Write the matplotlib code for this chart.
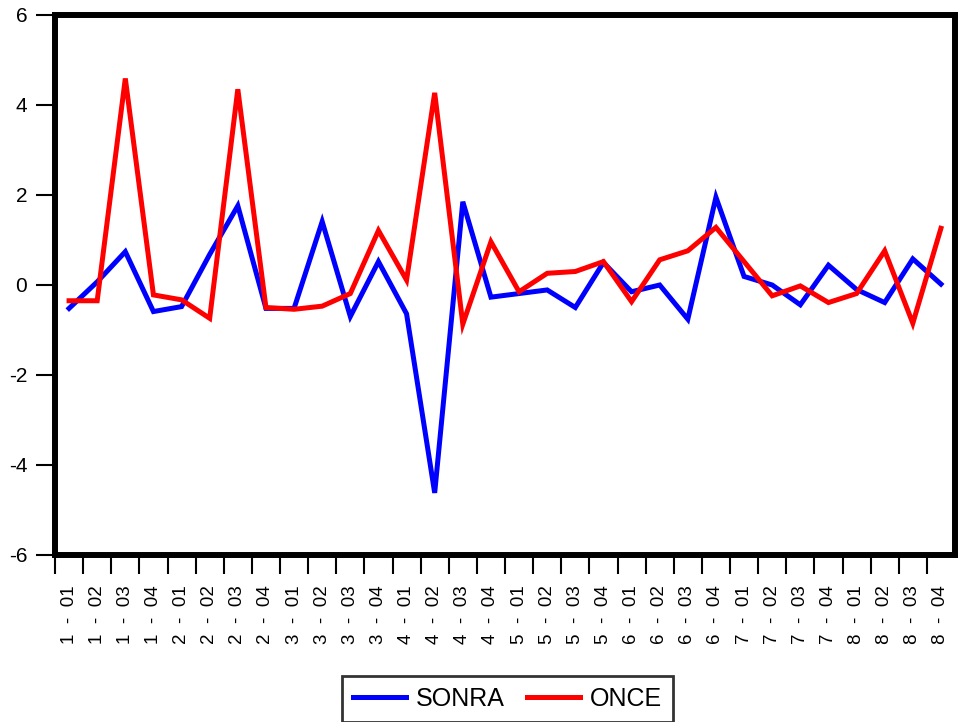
import numpy as np
import matplotlib.pyplot as plt
from matplotlib.ticker import FixedLocator

plt.rcParams['font.family'] = ['Liberation Sans', 'DejaVu Sans']

# quarter labels: year index - quarter
years = [1, 2, 3, 4, 5, 6, 7, 8]
quarters = ["01", "02", "03", "04"]
labels = [f"{y}  -  {q}" for y in years for q in quarters]

sonra = [-0.52, 0.07, 0.74, -0.59, -0.48, 0.68, 1.76, -0.52,
         -0.52, 1.41, -0.70, 0.52, -0.64, -4.62, 1.85, -0.27,
         -0.19, -0.11, -0.50, 0.50, -0.15, 0.00, -0.76, 1.95,
         0.19, 0.00, -0.44, 0.44, -0.10, -0.39, 0.58, 0.02]
once = [-0.35, -0.35, 4.59, -0.22, -0.33, -0.74, 4.35, -0.50,
        -0.54, -0.47, -0.19, 1.21, 0.11, 4.27, -0.87, 0.96,
        -0.15, 0.26, 0.30, 0.52, -0.37, 0.56, 0.76, 1.28,
        0.52, -0.24, -0.02, -0.39, -0.19, 0.76, -0.85, 1.26]

x = np.arange(len(labels))

fig = plt.figure(figsize=(9.6, 7.22), dpi=100)
ax = fig.add_axes([55/960, 1-555/722, 900/960, 540/722])

ax.plot(x, sonra, color='#0000ff', lw=3.6, label='SONRA', solid_joinstyle='miter')
ax.plot(x, once, color='#ff0000', lw=3.6, label='ONCE', solid_joinstyle='miter')

ax.set_xlim(-0.5, 31.5)
ax.set_ylim(-6, 6)
ax.set_yticks([-6, -4, -2, 0, 2, 4, 6])
ax.set_yticklabels(['-6', '-4', '-2', '0', '2', '4', '6'])

# labels sit on the points, tick marks sit between them
ax.set_xticks(x)
ax.set_xticklabels(labels, rotation=90, fontsize=13.5)
ax.xaxis.set_minor_locator(FixedLocator(x - 0.5))
ax.tick_params(axis='x', which='major', length=0, pad=22)
ax.tick_params(axis='x', which='minor', length=14, width=1.5, direction='out')
ax.tick_params(axis='y', length=14, width=1.5, direction='out', labelsize=15, pad=6)

for s in ax.spines.values():
    s.set_linewidth(4.3)

leg = fig.legend(loc='center', bbox_to_anchor=(507.5/960, 1-699/722), ncol=2,
                 fontsize=18, frameon=True, fancybox=False, edgecolor='black',
                 handlelength=2.1, handletextpad=0.4, columnspacing=0.9,
                 borderpad=0.45, borderaxespad=0)
leg.get_frame().set_linewidth(2)

fig.savefig('out.png', dpi=100)
